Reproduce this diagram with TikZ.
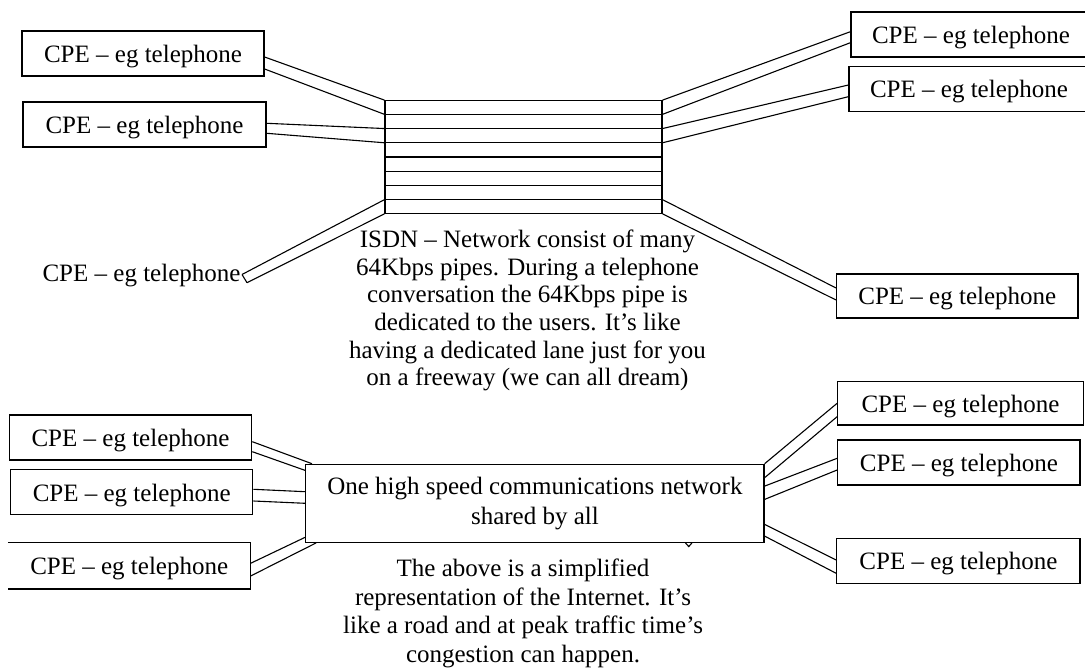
\documentclass[tikz,border=0pt]{standalone}
\usepackage{fontspec}
\setmainfont{Liberation Serif}
\usetikzlibrary{calc}
\begin{document}
\begin{tikzpicture}[x=1pt,y=-1pt,
  every node/.style={font=\fontsize{25pt}{28pt}\selectfont},
  cpe/.style={draw, line width=1.2pt, minimum height=45pt, inner sep=0pt,
              text height=22pt, text depth=4.4pt},
  pipe/.style={line width=1.1pt},
  frame/.style={line width=1.2pt},
  note/.style={align=center, inner sep=0pt, anchor=north}]
\useasboundingbox (0,0) rectangle (1085,668);

% ---------- ISDN: one pipe per call ----------
\node[draw, frame, minimum width=277pt, minimum height=112.6pt, inner sep=0pt] (isdn) at (523.5,157) {};
\foreach \k in {1,...,7}
  \draw[frame] ($(isdn.north west)!\k/8!(isdn.south west)$) -- ($(isdn.north east)!\k/8!(isdn.south east)$);

\node[cpe, minimum width=242pt] (b1) at (143,53.5) {CPE – eg telephone};
\node[cpe, minimum width=243pt] (b2) at (144.5,124.5) {CPE – eg telephone};
\node[inner sep=0pt, anchor=base] (b3) at (141.5,282) {CPE – eg telephone};
\node[cpe, minimum width=240pt] (r1) at (971,34.5) {CPE – eg telephone};
\node[cpe, minimum width=240pt] (r2) at (969,89.2) {CPE – eg telephone};
\node[cpe, minimum width=241.3pt, minimum height=44pt] (r3) at (957.3,296) {CPE – eg telephone};

\coordinate (b3tipA) at (242,274.5);
\coordinate (b3tipB) at (247,282.7);

\draw[pipe] ([yshift=-3.5pt]b1.east) -- ($(isdn.north west)!0/8!(isdn.south west)$);
\draw[pipe] ([yshift=-15.5pt]b1.east) -- ($(isdn.north west)!1/8!(isdn.south west)$);
\draw[pipe] ([yshift=1.2pt]b2.east) -- ($(isdn.north west)!2/8!(isdn.south west)$);
\draw[pipe] ([yshift=-8.8pt]b2.east) -- ($(isdn.north west)!3/8!(isdn.south west)$);
\draw[pipe] (b3tipA) -- ($(isdn.north west)!7/8!(isdn.south west)$);
\draw[pipe] (b3tipB) -- ($(isdn.north west)!8/8!(isdn.south west)$);
\draw[pipe] (b3tipA) -- (b3tipB);

\draw[pipe] ([yshift=2.8pt]r1.west) -- ($(isdn.north east)!0/8!(isdn.south east)$);
\draw[pipe] ([yshift=-8.2pt]r1.west) -- ($(isdn.north east)!1/8!(isdn.south east)$);
\draw[pipe] ([yshift=4.2pt]r2.west) -- ($(isdn.north east)!2/8!(isdn.south east)$);
\draw[pipe] ([yshift=-7.5pt]r2.west) -- ($(isdn.north east)!3/8!(isdn.south east)$);
\draw[pipe] ([yshift=8pt]r3.west) -- ($(isdn.north east)!7/8!(isdn.south east)$);
\draw[pipe] ([yshift=-4pt]r3.west) -- ($(isdn.north east)!8/8!(isdn.south east)$);

\node[note, font=\fontsize{25pt}{27.7pt}\selectfont] (isdnnote) at (527.5,229.5)
  {ISDN – Network consist of many\\64Kbps pipes. During a telephone\\conversation the 64Kbps pipe is\\dedicated to the users. It’s like\\having a dedicated lane just for you\\on a freeway (we can all dream)};

% ---------- shared network ----------
\node[draw, frame, minimum width=458.3pt, minimum height=78pt, inner sep=0pt, align=center,
      font=\fontsize{25pt}{30.5pt}\selectfont] (net) at (534.9,503.3)
  {One high speed communications network\\shared by all};

\node[cpe, minimum width=242.4pt] (bl1) at (130.5,437.5) {CPE – eg telephone};
\node[cpe, minimum width=242pt] (bl2) at (131.7,492.2) {CPE – eg telephone};
\node[cpe, draw=none, minimum width=241.7pt, minimum height=45.6pt] (bl3) at (129.2,565.5) {CPE – eg telephone};
\draw[frame] (bl3.north west) -- (bl3.north east) -- (bl3.south east) -- (bl3.south west);
\node[cpe, minimum width=245.6pt, minimum height=43.3pt] (br1) at (960.5,403.3) {CPE – eg telephone};
\node[cpe, minimum width=242.3pt] (br2) at (958.9,462.5) {CPE – eg telephone};
\node[cpe, minimum width=243.3pt] (br3) at (958.4,560.8) {CPE – eg telephone};

\draw[pipe] ([yshift=-4.2pt]bl1.east) -- ([xshift=6.8pt]net.north west);
\draw[pipe] ([yshift=-14.2pt]bl1.east) -- ([yshift=-6.7pt]net.north west);
\draw[pipe] ([yshift=2.9pt]bl2.east) -- ([yshift=11.6pt]net.west);
\draw[pipe] ([yshift=-8.8pt]bl2.east) -- (net.west);
\draw[pipe] ([yshift=2.2pt]bl3.east) -- ([yshift=5.6pt]net.south west);
\draw[pipe] ([yshift=-10.5pt]bl3.east) -- ([xshift=11pt]net.south west);

\draw[pipe] (net.north east) -- (br1.west);
\draw[pipe] ([yshift=-14pt]net.north east) -- ([yshift=-13.4pt]br1.west);
\draw[pipe] ([yshift=-22.4pt]net.north east) -- ([yshift=4.2pt]br2.west);
\draw[pipe] ([yshift=-35.7pt]net.north east) -- ([yshift=-7.5pt]br2.west);
\draw[pipe] ([yshift=-60.7pt]net.north east) -- ([yshift=0.8pt]br3.west);
\draw[pipe] ([yshift=-72.4pt]net.north east) -- ([yshift=-12.5pt]br3.west);

% small tip peeking out under the network box
\draw[pipe] ([xshift=380.3pt]net.south west) -- ([xshift=383.6pt,yshift=-3.7pt]net.south west)
  -- ([xshift=386.8pt]net.south west);

\node[note, font=\fontsize{25pt}{28.5pt}\selectfont] (inetnote) at (523,559)
  {The above is a simplified\\representation of the Internet. It’s\\like a road and at peak traffic time’s\\congestion can happen.};
\end{tikzpicture}
\end{document}
